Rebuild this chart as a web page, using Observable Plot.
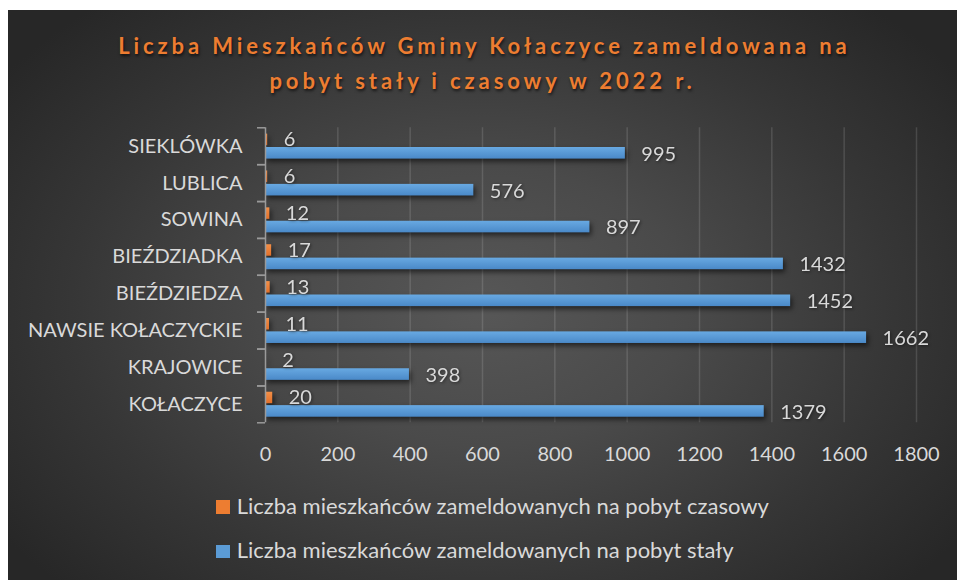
<!DOCTYPE html>
<html>
<head>
<meta charset="utf-8">
<script src="https://cdn.jsdelivr.net/npm/d3@7"></script>
<script src="https://cdn.jsdelivr.net/npm/@observablehq/plot@0.6"></script>
<style>
  html, body { margin: 0; padding: 0; background: #ffffff; }
  #chart {
    position: absolute; left: 8px; top: 10px; width: 949px; height: 570px; overflow: hidden;
    background: radial-gradient(ellipse 62% 70% at 50% 52%, #575757 0%, #4a4a4a 35%, #363636 70%, #272727 100%);
    font-family: Lato, "Open Sans", sans-serif;
  }
  #title {
    position: absolute; left: 0; top: 18.2px; width: 949px; text-align: center;
    font-family: Lato, sans-serif; font-weight: 700; font-size: 22px; line-height: 35px;
    letter-spacing: 3.9px; text-indent: 3.9px; color: #ED7D31;
    text-shadow: 1px 2px 3px rgba(0,0,0,0.65);
  }
  #plot { position: absolute; left: 0; top: 110px; }
  .lg-row { position: absolute; left: 208px; height: 24px; font-size: 22px; line-height: 24px; color: #d9d9d9; white-space: nowrap; }
  .lg-sw { position: absolute; left: 0; top: 6.8px; width: 14px; height: 13.4px; }
  .lg-tx { position: absolute; left: 20.7px; top: 0; }
</style>
</head>
<body>
<div id="chart">
  <div id="title"></div>
  <div id="plot"></div>
  <div id="legend"></div>
</div>
<script>
// ---- data ----
const titleLines = ["Liczba Mieszkańców Gminy Kołaczyce zameldowana na", "pobyt stały i czasowy w 2022 r."];
const categories = ["KOŁACZYCE", "KRAJOWICE", "NAWSIE KOŁACZYCKIE", "BIEŹDZIEDZA", "BIEŹDZIADKA", "SOWINA", "LUBLICA", "SIEKLÓWKA"];
const czasowy = [20, 2, 11, 13, 17, 12, 6, 6];
const staly = [1379, 398, 1662, 1452, 1432, 897, 576, 995];
const xTicks = [0, 200, 400, 600, 800, 1000, 1200, 1400, 1600, 1800];
const seriesNames = ["Liczba mieszkańców zameldowanych na pobyt czasowy", "Liczba mieszkańców zameldowanych na pobyt stały"];
const seriesColors = ["#ED7D31", "#5B9BD5"];

// ---- title ----
document.getElementById("title").innerHTML = titleLines.join("<br>");

// ---- plot ----
const rows = categories.map((c, i) => ({cat: c, czasowy: czasowy[i], staly: staly[i]}));
const W = 949, H = 360, mt = 7.3, mb = 57.7, ml = 257, mr = 41;
const bw = (H - mt - mb) / categories.length;
const axisGray = "#9a9a9a";
const labelColor = "#d9d9d9";

const chart = Plot.plot({
  width: W, height: H,
  marginTop: mt, marginBottom: mb, marginLeft: ml, marginRight: mr,
  style: {background: "transparent", color: labelColor, fontFamily: "Lato, 'Open Sans', sans-serif", fontSize: "20px"},
  x: {domain: [0, 1800], label: null},
  y: {type: "band", domain: categories.slice().reverse(), padding: 0, round: false, label: null},
  marks: [
    Plot.gridX(xTicks.filter(d => d > 0), {stroke: "#ffffff", strokeOpacity: 0.13, strokeWidth: 1.5}),
    Plot.axisX(xTicks, {anchor: "bottom", tickSize: 0, tickPadding: 24, fontSize: 20, fill: labelColor, tickFormat: d => String(d), label: null}),
    Plot.axisY({anchor: "left", tickSize: 0, tickPadding: 23, fontSize: 20, fill: labelColor, label: null}),
    Plot.axisY({anchor: "left", tickSize: 8, tickFormat: () => "", dy: -bw / 2, stroke: axisGray, strokeWidth: 1.5, label: null}),
    Plot.axisY({anchor: "left", tickSize: 8, tickFormat: () => "", dy: bw / 2, stroke: axisGray, strokeWidth: 1.5, label: null}),
    Plot.barX(rows, {y: "cat", x: "czasowy", fill: "url(#gOrange)", insetTop: 6.3, insetBottom: bw - 17.8}),
    Plot.barX(rows, {y: "cat", x: "staly", fill: "url(#gBlue)", insetTop: 19.7, insetBottom: bw - 31.3}),
    Plot.ruleX([0], {stroke: axisGray, strokeWidth: 1.5}),
    Plot.text(rows, {y: "cat", x: "czasowy", text: d => String(d.czasowy), textAnchor: "start", dx: 16, dy: -6.4, fill: labelColor, fontSize: 20}),
    Plot.text(rows, {y: "cat", x: "staly", text: d => String(d.staly), textAnchor: "start", dx: 16, dy: 8, fill: labelColor, fontSize: 20})
  ]
});

// gradients & shadows for bars
const svg = d3.select(chart);
const defs = svg.insert("defs", ":first-child");
const g1 = defs.append("linearGradient").attr("id", "gOrange").attr("x1", 0).attr("y1", 0).attr("x2", 0).attr("y2", 1);
g1.append("stop").attr("offset", "0%").attr("stop-color", "#f38f47");
g1.append("stop").attr("offset", "100%").attr("stop-color", "#e2702a");
const g2 = defs.append("linearGradient").attr("id", "gBlue").attr("x1", 0).attr("y1", 0).attr("x2", 0).attr("y2", 1);
g2.append("stop").attr("offset", "0%").attr("stop-color", "#68a9e2");
g2.append("stop").attr("offset", "100%").attr("stop-color", "#4a89c8");
svg.selectAll('g[aria-label="bar"]').style("filter", "drop-shadow(2px 3px 2.5px rgba(0,0,0,0.55))");
svg.selectAll('g[aria-label="text"]').style("filter", "drop-shadow(1px 1px 1.5px rgba(0,0,0,0.45))");

document.getElementById("plot").appendChild(chart);

// ---- legend ----
const legend = document.getElementById("legend");
const rowTops = [483.5, 528.2];
seriesNames.forEach((name, i) => {
  const r = document.createElement("div");
  r.className = "lg-row";
  r.style.top = rowTops[i] + "px";
  const sw = document.createElement("div");
  sw.className = "lg-sw";
  sw.style.background = seriesColors[i];
  const tx = document.createElement("div");
  tx.className = "lg-tx";
  tx.textContent = name;
  r.appendChild(sw); r.appendChild(tx);
  legend.appendChild(r);
});
</script>
</body>
</html>
